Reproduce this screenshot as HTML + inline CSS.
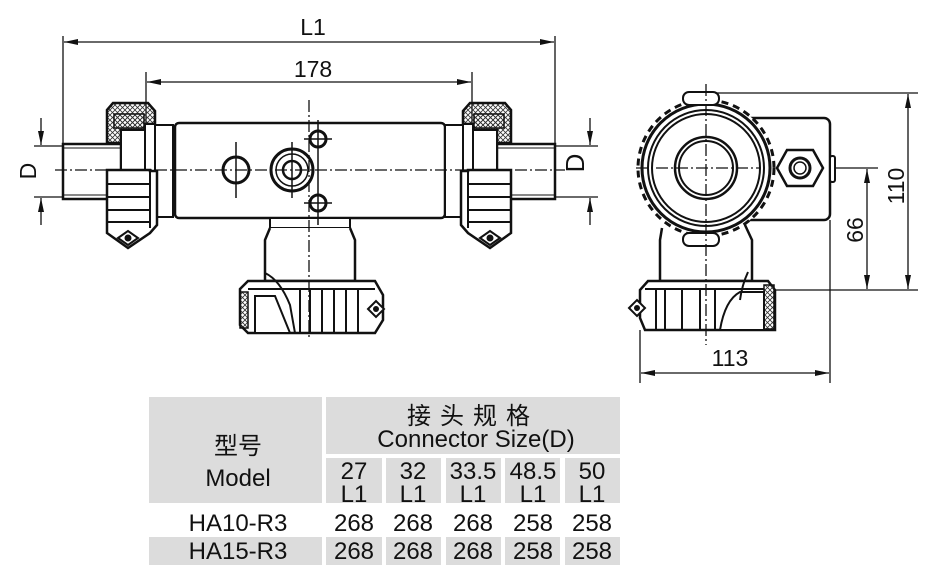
<!DOCTYPE html>
<html><head><meta charset="utf-8"><style>
body{margin:0;background:#fff;}
svg{display:block;}
text{font-family:"Liberation Sans","Noto Sans CJK SC",sans-serif;fill:#111;}
</style></head><body>
<svg width="939" height="575" viewBox="0 0 939 575" xmlns="http://www.w3.org/2000/svg">
<defs>
<marker id="a" viewBox="0 0 14 6" refX="14" refY="3" markerWidth="14" markerHeight="6" orient="auto-start-reverse" markerUnits="userSpaceOnUse"><path d="M0,0L14,3L0,6z" fill="#111"/></marker>
<pattern id="h" width="5" height="5" patternUnits="userSpaceOnUse"><path d="M0,0L5,5M5,0L0,5" stroke="#333" stroke-width="0.8"/></pattern>
<g id="fit">
 <rect x="63" y="144" width="58" height="55" fill="#fff" stroke="#111" stroke-width="2.5"/>
 <line x1="63" y1="148" x2="121" y2="148" stroke="#111" stroke-width="1"/>
 <line x1="63" y1="195" x2="121" y2="195" stroke="#111" stroke-width="1"/>
 <path d="M107,143 L107,110 L113,103 L148,103 L155,111 L155,124 L145,124 L145,130 L121,130 L121,143 Z" fill="url(#h)" stroke="#111" stroke-width="2.5"/>
 <rect x="114" y="114" width="30" height="14" fill="url(#h)" stroke="#111" stroke-width="1.5"/>
 <rect x="121" y="130" width="24" height="40" fill="#fff" stroke="#111" stroke-width="2"/>
 <rect x="145" y="124" width="10" height="94" fill="#fff" stroke="#111" stroke-width="2"/>
 <rect x="155" y="125" width="18" height="92" fill="#fff" stroke="#111" stroke-width="2"/>
 <path d="M107,170 L107,233 L128,248 L150,233 L157,225 L157,171 L150,171 L150,170 Z" fill="#fff" stroke="#111" stroke-width="2.5"/>
 <line x1="107" y1="184" x2="150" y2="184" stroke="#111" stroke-width="2"/>
 <line x1="107" y1="197" x2="150" y2="197" stroke="#111" stroke-width="2"/>
 <line x1="107" y1="210" x2="150" y2="210" stroke="#111" stroke-width="2"/>
 <line x1="107" y1="222" x2="150" y2="222" stroke="#111" stroke-width="2"/>
 <line x1="150" y1="171" x2="150" y2="228" stroke="#111" stroke-width="2"/>
 <path d="M118,238 L128,231 L138,238 L128,245 Z" fill="#fff" stroke="#111" stroke-width="2"/>
 <circle cx="128" cy="238" r="3.5" fill="#111"/>
</g>
</defs>

<g stroke="#111" stroke-width="1.3" fill="none">
<line x1="63" y1="36" x2="63" y2="144"/>
<line x1="555" y1="36" x2="555" y2="144"/>
<line x1="64" y1="42" x2="554" y2="42" marker-start="url(#a)" marker-end="url(#a)"/>
<line x1="146" y1="72" x2="146" y2="124"/>
<line x1="472" y1="72" x2="472" y2="124"/>
<line x1="147" y1="82" x2="471" y2="82" marker-start="url(#a)" marker-end="url(#a)"/>
</g>
<text x="313" y="35" font-size="23" text-anchor="middle">L1</text>
<text x="313" y="77" font-size="23" text-anchor="middle">178</text>

<rect x="175" y="123" width="270" height="95" rx="4" fill="#fff" stroke="#111" stroke-width="2.5"/>
<rect x="270" y="218" width="80" height="10" fill="#fff" stroke="#111" stroke-width="2"/>
<path d="M270,228 L265,240 L265,281 L355,281 L355,240 L350,228" fill="#fff" stroke="#111" stroke-width="2.5"/>
<path d="M248,281 L375,281 L383,295 L383,320 L375,333 L248,333 L240,325 L240,289 Z" fill="#fff" stroke="#111" stroke-width="2.5"/>
<rect x="240" y="292" width="8" height="36" fill="url(#h)" stroke="#111" stroke-width="1.5"/>
<path d="M255,296 L275,296 L290,333 L255,333 Z" fill="#fff" stroke="#111" stroke-width="2"/>
<path d="M265,273 Q280,280 290,305 L295,333" fill="none" stroke="#111" stroke-width="2"/>
<g stroke="#111" stroke-width="2"><line x1="300" y1="290" x2="300" y2="333"/><line x1="310" y1="290" x2="310" y2="333"/><line x1="322" y1="290" x2="322" y2="333"/><line x1="334" y1="290" x2="334" y2="333"/><line x1="346" y1="290" x2="346" y2="333"/><line x1="358" y1="290" x2="358" y2="333"/><line x1="248" y1="289" x2="375" y2="289"/></g>
<path d="M368,309 L376,301 L384,309 L376,317 Z" fill="#fff" stroke="#111" stroke-width="2"/><circle cx="376" cy="309" r="3" fill="#111"/>

<use href="#fit"/>
<use href="#fit" transform="translate(618,0) scale(-1,1)"/>

<g fill="none" stroke="#111">
<circle cx="236" cy="170" r="13" stroke-width="3"/>
<line x1="236" y1="142" x2="236" y2="198" stroke-width="1.5"/>
<circle cx="292" cy="170" r="21" stroke-width="3"/>
<circle cx="292" cy="170" r="16" stroke-width="1.5"/>
<circle cx="292" cy="170" r="9" stroke-width="2.5"/>
<line x1="292" y1="142" x2="292" y2="198" stroke-width="1.5"/>
<circle cx="318" cy="139" r="8" stroke-width="3"/>
<circle cx="318" cy="203" r="8" stroke-width="3"/>
<line x1="304" y1="139" x2="332" y2="139" stroke-width="1.5"/>
<line x1="304" y1="203" x2="332" y2="203" stroke-width="1.5"/>
<line x1="318" y1="120" x2="318" y2="225" stroke-width="1.5"/>
</g>
<g stroke="#111" stroke-width="1.3" stroke-dasharray="12,3,2,3">
<line x1="55" y1="170" x2="565" y2="170"/>
<line x1="309" y1="100" x2="309" y2="340"/>
</g>

<g stroke="#111" stroke-width="1.3">
<line x1="34" y1="146" x2="63" y2="146"/><line x1="34" y1="197" x2="63" y2="197"/>
<line x1="41" y1="118" x2="41" y2="145" marker-end="url(#a)"/>
<line x1="41" y1="225" x2="41" y2="198" marker-end="url(#a)"/>
<line x1="555" y1="146" x2="598" y2="146"/><line x1="555" y1="197" x2="598" y2="197"/>
<line x1="590" y1="118" x2="590" y2="145" marker-end="url(#a)"/>
<line x1="590" y1="225" x2="590" y2="198" marker-end="url(#a)"/>
</g>
<text transform="translate(36,171) rotate(-90)" font-size="23" text-anchor="middle">D</text>
<text transform="translate(584,163) rotate(-90)" font-size="26" text-anchor="middle">D</text>

<rect x="700" y="118" width="130" height="102" rx="6" fill="#fff" stroke="#111" stroke-width="2.5"/>
<rect x="830" y="156" width="5" height="26" rx="2" fill="#fff" stroke="#111" stroke-width="2"/>
<polygon points="787,150 813,150 823,168 813,186 787,186 777,168" fill="#fff" stroke="#111" stroke-width="2.5"/>
<circle cx="800" cy="168" r="10" fill="none" stroke="#111" stroke-width="3"/>
<circle cx="800" cy="168" r="6" fill="none" stroke="#111" stroke-width="1.5"/>
<path d="M662,228 L660,240 L660,281 L752,281 L752,240 L745,225" fill="#fff" stroke="#111" stroke-width="2.5"/>
<circle cx="706" cy="168" r="68" fill="#fff" stroke="#111" stroke-width="3" stroke-dasharray="7,5"/>
<circle cx="706" cy="168" r="64" fill="#fff" stroke="#111" stroke-width="3"/>
<circle cx="706" cy="168" r="58" fill="none" stroke="#111" stroke-width="2"/>
<circle cx="706" cy="168" r="54" fill="none" stroke="#111" stroke-width="2"/>
<circle cx="706" cy="168" r="31" fill="none" stroke="#111" stroke-width="2.5"/>
<circle cx="706" cy="168" r="27" fill="none" stroke="#111" stroke-width="2"/>
<rect x="683" y="92" width="36" height="13" rx="6" fill="#fff" stroke="#111" stroke-width="2"/>
<rect x="683" y="233" width="36" height="13" rx="6" fill="#fff" stroke="#111" stroke-width="2"/>
<path d="M648,281 L768,281 L775,290 L775,330 L645,330 L640,318 L640,290 Z" fill="#fff" stroke="#111" stroke-width="2.5"/>
<rect x="764" y="285" width="10" height="44" fill="url(#h)" stroke="#111" stroke-width="1.5"/>
<path d="M740,292 L764,292 L764,330 L720,330 Q725,300 740,292 Z" fill="#fff" stroke="#111" stroke-width="2"/>
<path d="M748,272 Q742,285 740,300" fill="none" stroke="#111" stroke-width="2"/>
<g stroke="#111" stroke-width="2"><line x1="656" y1="288" x2="656" y2="330"/><line x1="665" y1="288" x2="665" y2="330"/><line x1="682" y1="288" x2="682" y2="330"/><line x1="700" y1="288" x2="700" y2="330"/><line x1="715" y1="288" x2="715" y2="330"/><line x1="645" y1="289" x2="764" y2="289"/></g>
<path d="M629,308 L637,300 L645,308 L637,316 Z" fill="#fff" stroke="#111" stroke-width="2"/><circle cx="637" cy="308" r="3" fill="#111"/>
<g stroke="#111" stroke-width="1.3" stroke-dasharray="12,3,2,3">
<line x1="636" y1="168" x2="760" y2="168"/>
<line x1="706" y1="84" x2="706" y2="345"/>
</g>
<g stroke="#111" stroke-width="1.3">
<line x1="715" y1="93" x2="918" y2="93"/>
<line x1="775" y1="290" x2="918" y2="290"/>
<line x1="836" y1="168" x2="878" y2="168"/>
<line x1="908" y1="94" x2="908" y2="289" marker-start="url(#a)" marker-end="url(#a)"/>
<line x1="867" y1="169" x2="867" y2="289" marker-start="url(#a)" marker-end="url(#a)"/>
<line x1="640" y1="330" x2="640" y2="383"/>
<line x1="830" y1="220" x2="830" y2="383"/>
<line x1="641" y1="373" x2="829" y2="373" marker-start="url(#a)" marker-end="url(#a)"/>
</g>
<text transform="translate(904,186) rotate(-90)" font-size="23" text-anchor="middle">110</text>
<text transform="translate(863,230) rotate(-90)" font-size="23" text-anchor="middle">66</text>
<text x="730" y="366" font-size="23" text-anchor="middle">113</text>

<g fill="#dcdcdc">
<rect x="149" y="397" width="173" height="106"/>
<rect x="326" y="397" width="294" height="57"/>
<rect x="326" y="458" width="56" height="45"/>
<rect x="386" y="458" width="55" height="45"/>
<rect x="446" y="458" width="55" height="45"/>
<rect x="505" y="458" width="55" height="45"/>
<rect x="565" y="458" width="55" height="45"/>
<rect x="149" y="537" width="173" height="28"/>
<rect x="326" y="537" width="56" height="28"/>
<rect x="386" y="537" width="55" height="28"/>
<rect x="446" y="537" width="55" height="28"/>
<rect x="505" y="537" width="55" height="28"/>
<rect x="565" y="537" width="55" height="28"/>
</g>
<g font-size="24" text-anchor="middle">
<text x="238" y="454">型号</text>
<text x="238" y="486">Model</text>
<text x="473" y="424" letter-spacing="9">接头规格</text>
<text x="476" y="447">Connector Size(D)</text>
<text x="354" y="479">27</text><text x="354" y="502">L1</text>
<text x="413" y="479">32</text><text x="413" y="502">L1</text>
<text x="473" y="479">33.5</text><text x="473" y="502">L1</text>
<text x="533" y="479">48.5</text><text x="533" y="502">L1</text>
<text x="592" y="479">50</text><text x="592" y="502">L1</text>
<text x="238" y="531">HA10-R3</text>
<text x="354" y="531">268</text><text x="413" y="531">268</text><text x="473" y="531">268</text><text x="533" y="531">258</text><text x="592" y="531">258</text>
<text x="238" y="559">HA15-R3</text>
<text x="354" y="559">268</text><text x="413" y="559">268</text><text x="473" y="559">268</text><text x="533" y="559">258</text><text x="592" y="559">258</text>
</g>
</svg>
</body></html>
